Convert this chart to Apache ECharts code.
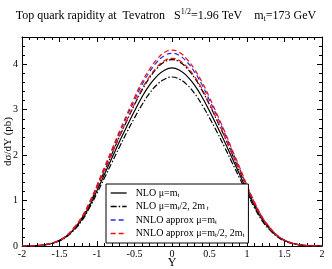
<!DOCTYPE html>
<html><head><meta charset="utf-8">
<script src="https://cdn.jsdelivr.net/npm/echarts@6/dist/echarts.min.js"></script>
<style>html,body{margin:0;padding:0;background:#fff}#c{width:332px;height:269px}</style>
</head><body><div id="c"></div>
<script>
const rapidity = [-2.0,-1.9,-1.8,-1.7,-1.6,-1.5,-1.4,-1.3,-1.2,-1.1,-1.0,-0.9,-0.8,-0.7,-0.6,-0.5,-0.4,-0.3,-0.2,-0.1,0.0,0.1,0.2,0.3,0.4,0.5,0.6,0.7,0.8,0.9,1.0,1.1,1.2,1.3,1.4,1.5,1.6,1.7,1.8,1.9,2.0];
const nloCentral = [0,0.002,0.008,0.025,0.06,0.12,0.22,0.38,0.59,0.88,1.22,1.58,1.94,2.30,2.64,2.97,3.28,3.54,3.74,3.87,3.92,3.87,3.74,3.54,3.28,2.97,2.64,2.30,1.94,1.58,1.22,0.88,0.59,0.38,0.22,0.12,0.06,0.025,0.008,0.002,0];
const nloLow = [0,0.002,0.008,0.024,0.057,0.11,0.21,0.36,0.56,0.84,1.16,1.50,1.84,2.18,2.51,2.82,3.11,3.36,3.55,3.67,3.72,3.67,3.55,3.36,3.11,2.82,2.51,2.18,1.84,1.50,1.16,0.84,0.56,0.36,0.21,0.11,0.057,0.024,0.008,0.002,0];
const nloHigh = [0,0.002,0.008,0.026,0.063,0.125,0.23,0.40,0.62,0.92,1.28,1.65,2.03,2.41,2.76,3.11,3.43,3.70,3.91,4.05,4.10,4.05,3.91,3.70,3.43,3.11,2.76,2.41,2.03,1.65,1.28,0.92,0.62,0.40,0.23,0.125,0.063,0.026,0.008,0.002,0];
const nnloCentral = [0,0.002,0.009,0.027,0.065,0.13,0.24,0.41,0.64,0.95,1.32,1.71,2.10,2.49,2.86,3.21,3.55,3.83,4.05,4.19,4.24,4.19,4.05,3.83,3.55,3.21,2.86,2.49,2.10,1.71,1.32,0.95,0.64,0.41,0.24,0.13,0.065,0.027,0.009,0.002,0];
const nnloHigh = [0,0.002,0.009,0.028,0.066,0.13,0.24,0.42,0.65,0.97,1.34,1.74,2.13,2.53,2.90,3.27,3.61,3.89,4.11,4.26,4.31,4.26,4.11,3.89,3.61,3.27,2.90,2.53,2.13,1.74,1.34,0.97,0.65,0.42,0.24,0.13,0.066,0.028,0.009,0.002,0];
const nnloLow = [0,0.002,0.008,0.026,0.063,0.125,0.23,0.40,0.62,0.93,1.29,1.67,2.04,2.42,2.78,3.13,3.46,3.73,3.94,4.08,4.13,4.08,3.94,3.73,3.46,3.13,2.78,2.42,2.04,1.67,1.29,0.93,0.62,0.40,0.23,0.125,0.063,0.026,0.008,0.002,0];
const yTicks = [0,1,2,3,4];
const xTicks = [-2,-1.5,-1,-0.5,0,0.5,1,1.5,2];

const names = ['NLO μ=mt', 'NLO μ=mt/2, 2mt', 'NNLO approx μ=mt', 'NNLO approx μ=mt/2, 2mt'];
const legendRich = {
  'NLO μ=mt': 'NLO μ=m{s|t}',
  'NLO μ=mt/2, 2mt': 'NLO μ=m{s|t}/2, 2m{s| t}',
  'NNLO approx μ=mt': 'NNLO approx μ=m{s|t}',
  'NNLO approx μ=mt/2, 2mt': 'NNLO approx μ=m{s|t}/2, 2m{s|t}'
};
const font = 'Liberation Serif';
const BLACK = '#000', BLUE = '#1f2fe6', RED = '#f01010';
const dashDot = [6,2,1.5,2];
const dashed = [5,3];
const legendStyles = [[BLACK,'solid'],[BLACK,dashDot],[BLUE,dashed],[RED,dashed]];
function pairs(ys){ return rapidity.map((x,i)=>[x, ys[i]]); }
function mk(name, ys, color, type){
  return {type:'line', name, data:pairs(ys), smooth:true, symbol:'none', showSymbol:false,
    lineStyle:{color, width:1.2, type}, itemStyle:{color}, z:3, animation:false};
}
const chart = echarts.init(document.getElementById('c'), null, {renderer:'canvas'});
const axisCommon = {
  axisLine:{show:true, onZero:false, lineStyle:{color:'#000', width:1}},
  axisTick:{show:true, inside:true, length:5, lineStyle:{color:'#000'}},
  minorTick:{show:true, splitNumber:5, length:3, lineStyle:{color:'#000'}},
  splitLine:{show:false}
};
chart.setOption({
  animation:false,
  textStyle:{fontFamily:font},
  title:{
    text:'Top quark rapidity at  Tevatron   S{sup|1/2}=1.96 TeV    m{sub|t}=173 GeV',
    left:'center', top:3,
    textStyle:{fontFamily:font, fontSize:12, fontWeight:'normal', color:'#000',
      rich:{sup:{fontFamily:font, fontSize:8, verticalAlign:'top', padding:[0,0,7,0]},
            sub:{fontFamily:font, fontSize:8, verticalAlign:'bottom', padding:[5,0,0,0]}}}
  },
  grid:{left:22, right:10, top:37, bottom:23, containLabel:false, outerBoundsMode:'none'},
  xAxis:[Object.assign({type:'value', min:-2, max:2, interval:0.5,
      name:'Y', nameLocation:'middle', nameGap:11, nameMoveOverlap:false,
      nameTextStyle:{fontFamily:font, fontSize:12, color:'#000'},
      axisLabel:{fontFamily:font, fontSize:10, color:'#000', margin:3,
        formatter:v=>{const t=xTicks.find(k=>Math.abs(k-v)<1e-6); return t===undefined?'':String(t);}}
    }, axisCommon),
    Object.assign({type:'value', min:-2, max:2, interval:0.5, position:'top', axisLabel:{show:false}}, axisCommon)],
  yAxis:[Object.assign({type:'value', min:0, max:4.6, interval:1,
      name:'dσ/dY (pb)', nameLocation:'middle', nameGap:8, nameMoveOverlap:false,
      nameTextStyle:{fontFamily:font, fontSize:11, color:'#000'},
      axisLabel:{fontFamily:font, fontSize:10, color:'#000', margin:4, showMaxLabel:false,
        formatter:v=>{const t=yTicks.find(k=>Math.abs(k-v)<1e-6); return t===undefined?'':String(t);}}
    }, axisCommon),
    Object.assign({type:'value', min:0, max:4.6, interval:1, position:'right', axisLabel:{show:false}}, axisCommon)],
  legend:{
    orient:'vertical', left:106, top:184,
    data:names.map((n,i)=>({name:n, lineStyle:{color:legendStyles[i][0], type:legendStyles[i][1], width:1.3}, itemStyle:{opacity:0}})),
    backgroundColor:'#fff', borderColor:'#000', borderWidth:1, borderRadius:0,
    padding:[4,4,4,4], itemGap:3, itemWidth:16, itemHeight:10,
    selectedMode:false,
    itemStyle:{opacity:0},
    textStyle:{fontFamily:font, fontSize:10, color:'#000', padding:[0,0,0,4],
      rich:{s:{fontFamily:font, fontSize:7, verticalAlign:'bottom', padding:[4,0,0,0]}}},
    formatter:n=>legendRich[n]
  },
  series:[
    mk(names[0], nloCentral, BLACK, 'solid'),
    mk(names[1], nloLow, BLACK, dashDot),
    mk(names[1], nloHigh, BLACK, dashDot),
    mk(names[2], nnloCentral, BLUE, dashed),
    mk(names[3], nnloLow, RED, dashed),
    mk(names[3], nnloHigh, RED, dashed)
  ]
});
</script></body></html>
